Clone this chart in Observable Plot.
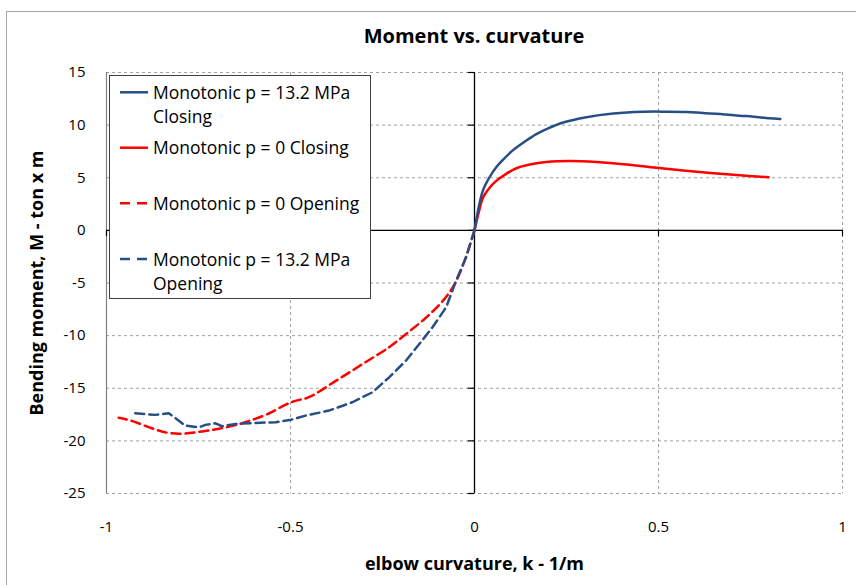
<!DOCTYPE html>
<html>
<head>
<meta charset="utf-8">
<script src="https://cdn.jsdelivr.net/npm/d3@7"></script>
<script src="https://cdn.jsdelivr.net/npm/@observablehq/plot@0.6"></script>
<style>
  body { margin: 0; background: #fff; font-family: "Open Sans", sans-serif; }
  #chart { position: relative; width: 856px; height: 585px; overflow: hidden; background: #fff; }
  #frame { position: absolute; left: 6px; top: 11px; width: 900px; height: 700px; border: 1px solid #a6a6a6; }
  #title { position: absolute; left: 106px; width: 736px; top: 22px; text-align: center;
           font-size: 20px; font-weight: bold; color: #000; line-height: normal; }
  #plot { position: absolute; left: 0; top: 55px; }
  #legend { position: absolute; left: 109px; top: 75px; }
</style>
</head>
<body>
<div id="chart">
  <div id="frame"></div>
  <div id="title">Moment vs. curvature</div>
  <div id="plot"></div>
  <svg id="legend" width="262" height="224"></svg>
</div>
<script>
// Curvature k (1/m) against bending moment M (ton x m)
const closing132 = [
  [0, 0], [0.008, 1.6], [0.023, 3.8], [0.04, 5.0], [0.059, 6.0], [0.08, 6.8],
  [0.104, 7.6], [0.135, 8.4], [0.168, 9.15], [0.2, 9.7], [0.241, 10.25],
  [0.304, 10.75], [0.377, 11.1], [0.459, 11.27], [0.52, 11.28], [0.577, 11.25],
  [0.62, 11.15], [0.668, 11.05], [0.72, 10.9], [0.758, 10.8], [0.8, 10.65], [0.831, 10.58]
];
const closing0 = [
  [0, 0], [0.01, 1.5], [0.023, 3.1], [0.04, 4.0], [0.059, 4.7], [0.085, 5.35],
  [0.114, 5.9], [0.15, 6.25], [0.195, 6.5], [0.259, 6.6], [0.332, 6.5],
  [0.413, 6.27], [0.495, 5.95], [0.604, 5.57], [0.713, 5.26], [0.799, 5.04]
];
const opening0 = [
  [0, 0], [-0.027, -2.9], [-0.054, -5.1], [-0.086, -6.7], [-0.132, -8.3],
  [-0.186, -9.85], [-0.232, -11.1], [-0.304, -12.7], [-0.377, -14.3], [-0.45, -15.85],
  [-0.487, -16.2], [-0.513, -16.55], [-0.559, -17.4], [-0.604, -18.0], [-0.649, -18.5],
  [-0.695, -18.85], [-0.74, -19.1], [-0.786, -19.3], [-0.831, -19.25], [-0.877, -18.8],
  [-0.931, -18.1], [-0.967, -17.8]
];
const opening132 = [
  [0, 0], [-0.023, -2.56], [-0.05, -4.78], [-0.077, -7.3], [-0.114, -9.2],
  [-0.15, -10.8], [-0.186, -12.37], [-0.232, -13.96], [-0.277, -15.38], [-0.332, -16.33],
  [-0.395, -17.12], [-0.459, -17.6], [-0.499, -18.0], [-0.54, -18.23], [-0.595, -18.29],
  [-0.649, -18.39], [-0.686, -18.61], [-0.704, -18.33], [-0.731, -18.48], [-0.749, -18.71],
  [-0.786, -18.55], [-0.813, -17.82], [-0.831, -17.38], [-0.867, -17.53], [-0.922, -17.38]
];

const xTicks = [-1, -0.5, 0, 0.5, 1];
const yTicks = [-25, -20, -15, -10, -5, 0, 5, 10, 15];

const BLUE = "#264f86";
const RED = "#ff0000";
const DASH = "9,5";

const legendItems = [
  { lines: ["Monotonic p = 13.2 MPa", "Closing"], color: BLUE, dash: null },
  { lines: ["Monotonic p = 0 Closing"], color: RED, dash: null },
  { lines: ["Monotonic p = 0 Opening"], color: RED, dash: "10,7" },
  { lines: ["Monotonic p = 13.2 MPa", "Opening"], color: BLUE, dash: "10,7" }
];

const fmt = d => String(d);
const grid = { stroke: "#a0a0a0", strokeOpacity: 1, strokeDasharray: "3,3", strokeWidth: 1 };

const chart = Plot.plot({
  width: 856,
  height: 530,
  marginLeft: 106,
  marginRight: 14,
  marginTop: 17,
  marginBottom: 92,
  style: { fontFamily: "Open Sans, sans-serif", color: "#000", background: "transparent", overflow: "visible" },
  x: { domain: [-1, 1] },
  y: { domain: [-25, 15] },
  marks: [
    Plot.gridX(xTicks.filter(d => d !== 0 && d !== -1), grid),
    Plot.gridY(yTicks.filter(d => d !== 0), grid),
    Plot.ruleX([-1], { stroke: "#808080", strokeWidth: 1.2 }),
    Plot.ruleX([0], { stroke: "#000", strokeWidth: 1.3 }),
    Plot.ruleY([0], { stroke: "#000", strokeWidth: 1.3 }),
    // small tick marks on the zero axes
    Plot.ruleY(yTicks, { y: d => d, x1: 0, x2: -0.017, stroke: "#000", strokeWidth: 1.2 }),
    Plot.ruleX(xTicks.filter(d => d !== 0), { x: d => d, y1: 0, y2: -0.6, stroke: "#000", strokeWidth: 1.2 }),
    Plot.axisX({ ticks: xTicks, tickSize: 0, tickPadding: 28, fontSize: 15, tickFormat: fmt, label: null }),
    Plot.axisY({ ticks: yTicks, tickSize: 0, tickPadding: 21, fontSize: 15, tickFormat: fmt, label: null }),
    Plot.line(opening0, { curve: "catmull-rom", stroke: RED, strokeWidth: 2.5, strokeDasharray: DASH }),
    Plot.line(opening132, { curve: "linear", stroke: BLUE, strokeWidth: 2.5, strokeDasharray: DASH }),
    Plot.line(closing0, { curve: "catmull-rom", stroke: RED, strokeWidth: 2.5 }),
    Plot.line(closing132, { curve: "catmull-rom", stroke: BLUE, strokeWidth: 2.5 }),
    Plot.text(["Bending moment, M - ton x m"], {
      frameAnchor: "left", textAnchor: "middle", lineAnchor: "middle",
      rotate: -90, dx: -69, fontSize: 18, fontWeight: "bold"
    }),
    Plot.text(["elbow curvature, k - 1/m"], {
      frameAnchor: "bottom", textAnchor: "middle", lineAnchor: "middle",
      dy: 71, fontSize: 18, fontWeight: "bold"
    })
  ]
});
document.getElementById("plot").appendChild(chart);

// Legend box with line samples and series names
const lg = d3.select("#legend");
lg.append("rect").attr("x", 0.5).attr("y", 0.5).attr("width", 261).attr("height", 223)
  .attr("fill", "#fff").attr("stroke", "#404040").attr("stroke-width", 1);
const rowY = [17.3, 72.7, 128.3, 184];
legendItems.forEach((item, i) => {
  const g = lg.append("g").attr("transform", `translate(0,${rowY[i]})`);
  g.append("line").attr("x1", 11).attr("x2", 39).attr("y1", 0).attr("y2", 0)
    .attr("stroke", item.color).attr("stroke-width", 2.5)
    .attr("stroke-dasharray", item.dash);
  item.lines.forEach((t, j) => {
    g.append("text").attr("x", 44).attr("y", 6.7 + j * 24.3)
      .attr("font-family", "Open Sans, sans-serif").attr("font-size", 17.5)
      .attr("fill", "#000").text(t);
  });
});
</script>
</body>
</html>
